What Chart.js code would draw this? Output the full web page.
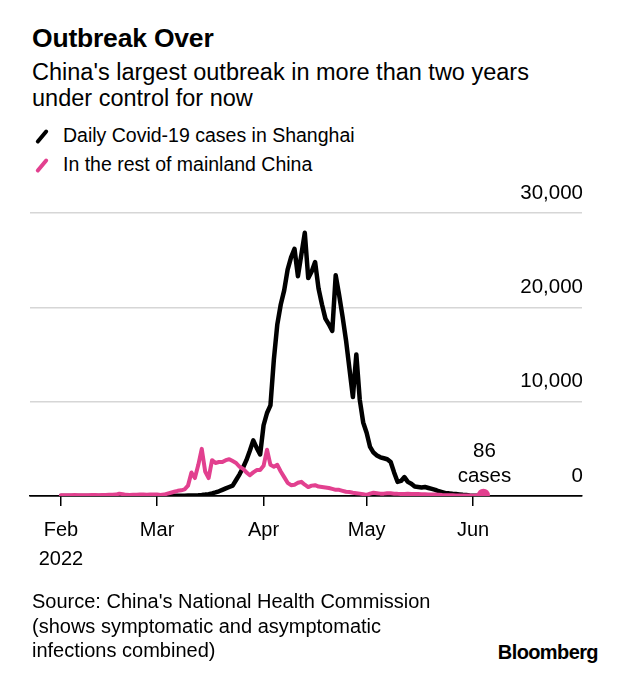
<!DOCTYPE html>
<html>
<head>
<meta charset="utf-8">
<script src="https://cdn.jsdelivr.net/npm/chart.js@4.4.1/dist/chart.umd.min.js"></script>
<style>
  html, body { margin: 0; padding: 0; background: #fff; }
  body { width: 630px; height: 682px; position: relative; overflow: hidden;
         font-family: "Liberation Sans", Arial, sans-serif; color: #000; }
  .abs { position: absolute; white-space: nowrap; }
  .title { left: 32px; top: 23px; font-size: 26.5px; line-height: 30px; font-weight: bold; letter-spacing: -0.2px; }
  .subtitle { left: 32px; top: 59px; font-size: 23.5px; line-height: 26px; }
  .legend { left: 34px; font-size: 19.5px; line-height: 22px; }
  .legend i { display: inline-block; width: 4px; height: 17px; border-radius: 2px;
              transform: rotate(40deg); margin: 0 19px 0 6px; vertical-align: -3px; }
  .source { left: 32px; top: 589px; font-size: 20px; line-height: 24.5px; }
  .logo { right: 32px; top: 641px; font-size: 20px; line-height: 22px; font-weight: bold; letter-spacing: -0.6px; }
  #wrap { position: absolute; left: 0; top: 180px; width: 630px; height: 410px; }
</style>
</head>
<body>
<div class="abs title">Outbreak Over</div>
<div class="abs subtitle">China's largest outbreak in more than two years<br>under control for now</div>
<div class="abs legend" style="top:124px"><i style="background:#000"></i>Daily Covid-19 cases in Shanghai</div>
<div class="abs legend" style="top:153px"><i style="background:#e2408f"></i>In the rest of mainland China</div>
<div id="wrap"><canvas id="chart"></canvas></div>
<div class="abs source">Source: China's National Health Commission<br>(shows symptomatic and asymptomatic<br>infections combined)</div>
<div class="abs logo">Bloomberg</div>

<script>
// day 0 = Feb 1 2022, one value per day up to Jun 4
const tickDays = [0, 28, 59, 89, 120];
const tickLabels = [['Feb', '2022'], 'Mar', 'Apr', 'May', 'Jun'];
const yTicks = [0, 10000, 20000, 30000];

// Shanghai daily cases
const shanghai = [
  // Feb
  2, 1, 3, 2, 3, 2, 4, 3, 5, 3, 4, 6, 4, 5, 3, 6, 8, 5, 7, 9, 12, 15, 18, 20, 14, 16, 22, 25,
  // Mar
  5, 8, 10, 12, 15, 18, 20, 25, 30, 40, 50, 60, 80, 110, 150, 200, 280, 380, 500, 650, 800,
  950, 1100, 1700, 2300, 3000, 3800, 4800, 5900, 5100, 4400,
  // Apr
  7500, 8800, 9600, 14500, 18200, 20300, 21800, 24000, 25300, 26200, 23300, 25600, 27900,
  23100, 23800, 24800, 22000, 20300, 18800, 18200, 17500, 23400, 21300, 19000, 16500, 13500,
  10500, 15000, 10200, 7800,
  // May
  6700, 5200, 4600, 4300, 4100, 4000, 3900, 3600, 2500, 1500, 1600, 2000, 1500, 1300, 1000,
  950, 900, 950, 850, 750, 650, 500, 400, 300, 280, 230, 200, 170, 130, 100, 60,
  // Jun
  30, 20, 10, 5
];

// rest of mainland China daily cases
const restOfChina = [
  // Feb
  80, 70, 90, 80, 100, 90, 80, 70, 90, 100, 110, 90, 100, 110, 120, 130, 150, 250, 200, 120,
  100, 130, 140, 150, 160, 140, 150, 160,
  // Mar
  150, 100, 150, 250, 350, 450, 550, 600, 700, 1100, 2500, 1900, 3300, 5000, 2600, 1900, 3800,
  3500, 3600, 3600, 3800, 3900, 3700, 3500, 3100, 2900, 2500, 2200, 2500, 2750, 2750,
  // Apr
  3200, 4900, 3300, 3100, 3300, 2600, 2000, 1400, 1150, 1200, 1400, 1500, 1200, 950, 1100,
  1150, 1000, 950, 900, 850, 750, 650, 650, 550, 450, 420, 350, 300, 250, 200,
  // May
  120, 250, 350, 300, 250, 250, 300, 280, 250, 230, 220, 210, 230, 220, 200, 210, 190, 180,
  170, 160, 150, 130, 100, 90, 80, 70, 60, 50, 45, 40, 40,
  // Jun
  35, 40, 50, 86
];

const pink = '#e2408f';
const FONT = '"Liberation Sans", Arial, sans-serif';

const toPoints = arr => arr.map((v, i) => ({ x: i, y: v }));

// "86 cases" note above the last pink point
const endLabel = {
  id: 'endLabel',
  afterDatasetsDraw(chart) {
    const meta = chart.getDatasetMeta(0);
    const pt = meta.data[meta.data.length - 1];
    const c = chart.ctx;
    c.save();
    c.font = '20.5px ' + FONT;
    c.fillStyle = '#000';
    c.textAlign = 'center';
    c.textBaseline = 'middle';
    c.fillText(String(restOfChina[restOfChina.length - 1]), pt.x + 1, pt.y - 44);
    c.fillText('cases', pt.x + 1, pt.y - 19);
    c.restore();
  }
};

new Chart(document.getElementById('chart'), {
  type: 'line',
  data: {
    datasets: [
      {
        label: 'In the rest of mainland China',
        data: toPoints(restOfChina),
        borderColor: pink,
        backgroundColor: pink,
        borderWidth: 4,
        borderJoinStyle: 'round',
        borderCapStyle: 'round',
        pointRadius: c => (c.dataIndex === restOfChina.length - 1 ? 6.5 : 0),
        pointBorderWidth: 0,
        pointBackgroundColor: pink,
        order: 0
      },
      {
        label: 'Daily Covid-19 cases in Shanghai',
        data: toPoints(shanghai),
        borderColor: '#000',
        borderWidth: 4.5,
        borderJoinStyle: 'round',
        borderCapStyle: 'round',
        pointRadius: 0,
        order: 1
      }
    ]
  },
  options: {
    responsive: true,
    maintainAspectRatio: false,
    animation: false,
    layout: { padding: { top: 33, left: 30, right: 46, bottom: 0 } },
    plugins: { legend: { display: false }, tooltip: { enabled: false } },
    scales: {
      x: {
        type: 'linear',
        min: -9,
        max: 151.7,
        afterBuildTicks: s => { s.ticks = tickDays.map(v => ({ value: v })); },
        afterFit: s => { s.height = 94; },
        ticks: {
          callback: (v, i) => tickLabels[i],
          color: '#000',
          font: { family: FONT, size: 20, lineHeight: 1.45 },
          padding: 10,
          maxRotation: 0,
          autoSkip: false
        },
        grid: { drawOnChartArea: false, color: '#000', lineWidth: 1.5, tickLength: 10 },
        border: { display: true, color: '#000', width: 1.5 }
      },
      y: {
        position: 'right',
        min: 0,
        max: 30000,
        afterBuildTicks: s => { s.ticks = yTicks.map(v => ({ value: v })); },
        ticks: {
          mirror: true,
          padding: 1,
          labelOffset: -20,
          color: '#000',
          font: { family: FONT, size: 20.5 },
          callback: v => v.toLocaleString('en-US')
        },
        grid: {
          drawTicks: false,
          color: c => (c.tick && c.tick.value === 0 ? '#000' : '#d6d6d6'),
          lineWidth: 1.5
        },
        border: { display: false }
      }
    }
  },
  plugins: [endLabel]
});
</script>
</body>
</html>
